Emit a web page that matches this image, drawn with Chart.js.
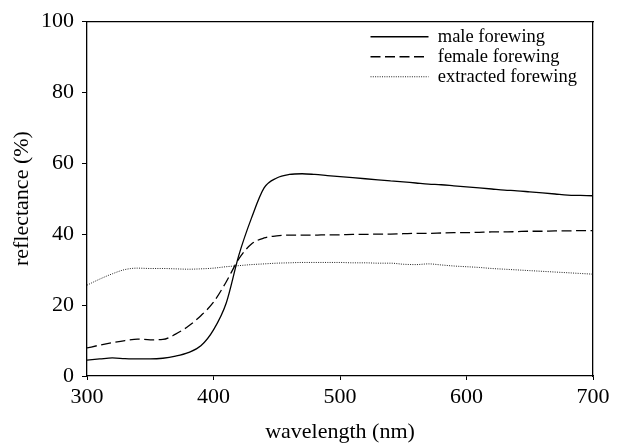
<!DOCTYPE html>
<html><head><meta charset="utf-8">
<script src="https://cdn.jsdelivr.net/npm/chart.js@4.4.1/dist/chart.umd.min.js"></script>
<style>html,body{margin:0;padding:0;background:#fff;}#wrap{width:618px;height:445px;}</style>
</head><body><div id="wrap"><canvas id="c" width="618" height="445"></canvas></div>
<script>
const wavelengths = [300,310,320,330,340,350,360,370,380,390,400,410,420,430,440,450,460,470,480,490,500,510,520,530,540,550,560,570,580,590,600,610,620,630,640,650,660,670,680,690,700];
const maleForewing = [4.5,4.8,5.1,4.9,4.8,4.8,5.0,5.6,6.6,8.5,13.0,20.5,34.0,44.5,53.0,55.8,56.8,57.0,56.8,56.5,56.2,55.9,55.6,55.3,55.0,54.7,54.4,54.1,53.9,53.6,53.3,53.0,52.7,52.4,52.2,51.9,51.6,51.3,51.0,50.9,50.8];
const femaleForewing = [7.9,8.7,9.4,10.0,10.4,10.2,10.3,11.8,14.0,17.0,20.8,26.5,33.0,37.2,38.9,39.5,39.7,39.7,39.7,39.8,39.8,39.9,39.9,40.0,40.0,40.1,40.2,40.2,40.3,40.4,40.4,40.5,40.6,40.6,40.7,40.8,40.8,40.9,40.9,41.0,41.0];
const extractedForewing = [25.6,27.3,28.8,30.0,30.4,30.3,30.3,30.2,30.1,30.2,30.4,30.8,31.1,31.4,31.6,31.8,31.9,32.0,32.0,32.0,32.0,31.9,31.9,31.8,31.8,31.5,31.4,31.6,31.3,31.0,30.8,30.6,30.3,30.1,29.9,29.7,29.5,29.3,29.1,28.9,28.7];
const seriesLabels = ['male forewing','female forewing','extracted forewing'];
const xTicks = [300,400,500,600,700];
const yTicks = [0,20,40,60,80,100];

const FONT = "'Liberation Serif', 'DejaVu Serif', serif";
Chart.defaults.font.family = FONT;
Chart.defaults.color = '#000';

function pts(vals){ return wavelengths.map((w,i)=>({x:w,y:vals[i]})); }

const legendPlace = {
  id: 'legendPlace',
  afterLayout(chart){
    const lg = chart.legend; if(!lg) return;
    const w = lg.width;
    lg.left = 369; lg.right = lg.left + w;
    lg.top = 26; lg.bottom = lg.top + 100;
  }
};

new Chart(document.getElementById('c'), {
  type: 'line',
  data: {
    datasets: [
      {label: seriesLabels[0], data: pts(maleForewing), borderColor:'#000', borderWidth:1.3, pointRadius:0, pointStyle:'line', cubicInterpolationMode:'monotone', fill:false},
      {label: seriesLabels[1], data: pts(femaleForewing), borderColor:'#000', borderWidth:1.3, borderDash:[10,4.5], pointRadius:0, pointStyle:'line', cubicInterpolationMode:'monotone', fill:false},
      {label: seriesLabels[2], data: pts(extractedForewing), borderColor:'#222', borderWidth:1, borderDash:[1,1.3], pointRadius:0, pointStyle:'line', cubicInterpolationMode:'monotone', fill:false}
    ]
  },
  options: {
    responsive: false,
    animation: false,
    devicePixelRatio: 1,
    layout: {padding: {left:9, top:20, right:25, bottom:0}},
    plugins: {
      tooltip: {enabled:false},
      legend: {
        position: 'chartArea',
        align: 'start',
        labels: {
          usePointStyle:true, pointStyleWidth:58, font:{size:18.5, family:FONT}, color:'#000', padding:1.5,
          generateLabels: chart => {
            const items = Chart.defaults.plugins.legend.labels.generateLabels(chart);
            items.forEach(it => {
              const ds = chart.data.datasets[it.datasetIndex];
              it.lineDash = ds.borderDash || [];
              it.lineWidth = ds.borderWidth;
              it.strokeStyle = ds.borderColor;
              it.pointStyle = 'line';
            });
            return items;
          }
        }
      }
    },
    scales: {
      x: {
        type:'linear', position:'bottom', min:300, max:700,
        afterBuildTicks: s => { s.ticks = xTicks.map(v=>({value:v})); },
        afterFit: s => { s.height = 69; },
        ticks: {font:{size:22}, color:'#000', padding:4, maxRotation:0},
        grid: {drawOnChartArea:false, drawTicks:true, tickLength:4, tickColor:'#000', color:'#000'},
        border: {display:true, color:'#000', width:1.3},
        title: {display:true, text:'wavelength (nm)', font:{size:22}, color:'#000', padding:{top:0,bottom:0}}
      },
      y: {
        type:'linear', position:'left', min:0, max:100,
        afterBuildTicks: s => { s.ticks = yTicks.map(v=>({value:v})); },
        afterFit: s => { s.width = 78; },
        ticks: {font:{size:22}, color:'#000', padding:8},
        grid: {drawOnChartArea:false, drawTicks:true, tickLength:5, tickColor:'#000', color:'#000'},
        border: {display:true, color:'#000', width:1.3},
        title: {display:true, text:'reflectance (%)', font:{size:22}, color:'#000', padding:{top:0,bottom:0}}
      },
      x2: {
        type:'linear', position:'top', min:300, max:700,
        afterFit: s => { s.height = 0; },
        ticks: {display:false},
        grid: {display:true, drawOnChartArea:false, drawTicks:false},
        border: {display:true, color:'#000', width:1.3}
      },
      y2: {
        type:'linear', position:'right', min:0, max:100,
        afterFit: s => { s.width = 0; },
        ticks: {display:false},
        grid: {display:true, drawOnChartArea:false, drawTicks:false},
        border: {display:true, color:'#000', width:1.3}
      }
    }
  },
  plugins: [legendPlace]
});
</script>
</body></html>
